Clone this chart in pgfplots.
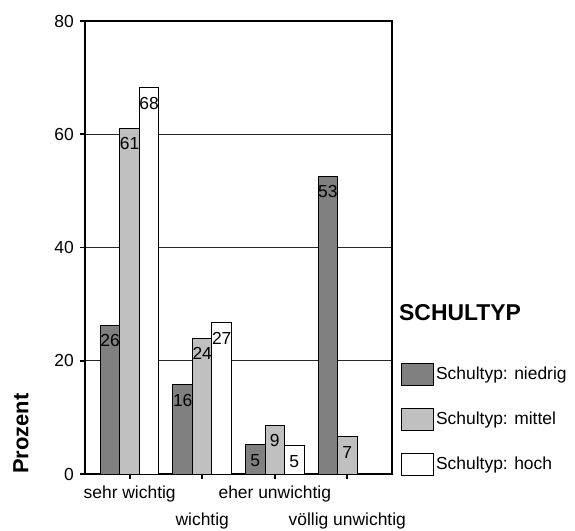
\documentclass[border=0pt]{standalone}
\usepackage{pgfplots}
\pgfplotsset{compat=1.18}
\usepackage{fontspec}
\setmainfont{Liberation Sans}
\definecolor{dg}{RGB}{128,128,128}
\definecolor{mg}{RGB}{192,192,192}
\newcommand{\tf}{\fontsize{17.5}{20}\selectfont}
\begin{document}
\begin{tikzpicture}
\begin{axis}[
  scale only axis, width=307bp, height=453bp,
  at={(0,0)}, anchor=south west,
  ymin=0, ymax=80, xmin=-0.616, xmax=3.616,
  ybar=0pt, bar width=19.5bp,
  ytick={0,20,40,60,80},
  ymajorgrids, grid style={black!85, line width=0.9bp},
  axis line style={black, line width=1.5bp},
  xtick={0,2}, xticklabels={sehr wichtig, eher unwichtig},
  extra x ticks={1,3}, extra x tick labels={wichtig, völlig unwichtig},
  extra x tick style={xticklabel style={yshift=-27bp}, grid=none},
  tick pos=left,
  tick align=outside, major tick length=5bp,
  tick style={black, line width=1.8bp},
  ticklabel style={font=\tf},
  xticklabel style={anchor=base, inner sep=0pt, yshift=-19bp},
  yticklabel style={inner sep=0pt, xshift=-6bp},
  /pgf/number format/assume math mode=true,
  ylabel={Prozent},
  ylabel style={at={(axis description cs:-0.2345,0)}, anchor=north west, inner sep=0pt, font=\bfseries\fontsize{22}{26}\selectfont},
  nodes near coords={\pgfmathprintnumber[fixed,precision=0]{\pgfplotspointmeta}},
  every node near coord/.append style={anchor=north, inner sep=0pt, yshift=-9bp, font=\tf, black},
  legend image code/.code={\draw[#1, draw=black, line width=1bp] (0bp,-11bp) rectangle (32bp,11bp);},
  legend cell align=left,
  legend style={at={(axis description cs:1.029,-0.0044)}, anchor=south west, draw=none, fill=none, inner sep=0pt, row sep=22bp, font=\tf, nodes={inner sep=2bp}},
]
\addplot[fill=dg, draw=black, line width=1bp] coordinates {(0,26.3) (1,15.8) (2,5.2) (3,52.6)};
\addlegendentry{Schultyp: niedrig}
\addplot[fill=mg, draw=black, line width=1bp] coordinates {(0,61.1) (1,24.0) (2,8.6) (3,6.6)};
\addlegendentry{Schultyp: mittel}
\addplot[fill=white, draw=black, line width=1bp] coordinates {(0,68.2) (1,26.7) (2,5.0)};
\addlegendentry{Schultyp: hoch}
\end{axis}
\node[anchor=west, inner sep=0pt, font=\bfseries\fontsize{23}{27}\selectfont] at (314bp,161bp) {SCHULTYP};
\pgfresetboundingbox
\path (-85bp,-57bp) rectangle (490bp,474bp);
\end{tikzpicture}
\end{document}
